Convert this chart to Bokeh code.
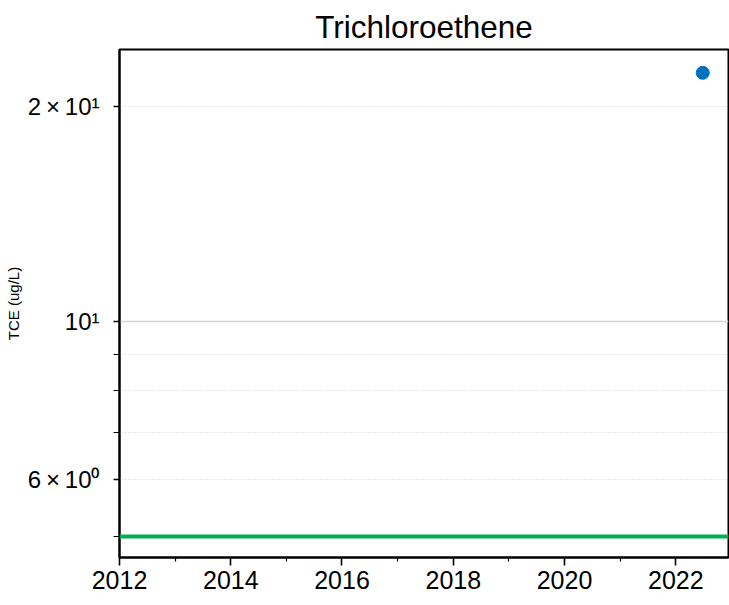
import pandas as pd
from bokeh.plotting import figure
from bokeh.models import (Range1d, FixedTicker, DatetimeTickFormatter, Span, Grid,
                          ColumnDataSource)
from bokeh.embed import file_html
from bokeh.resources import INLINE

# ---- data ----
title_text = "Trichloroethene"
y_label = "TCE (ug/L)"
sample_dates = ["2022-06-27"]
tce_values = [22.3]
mcl_value = 5.0
x_start, x_end = "2012-01-01", "2022-12-13"
y_start, y_end = 4.673, 24.04
major_years = [2012, 2014, 2016, 2018, 2020, 2022]
minor_years = [2013, 2015, 2017, 2019, 2021, 2023]
y_major_ticks = [6, 10, 20]
y_minor_ticks = [5, 7, 8, 9]
y_tick_labels = {6: "6\u2009×\u200910⁰", 10: "10¹", 20: "2\u2009×\u200910¹"}
solid_grid_vals = [10]
dotted_grid_vals = [6, 7, 8, 9, 20]

FONT = "Liberation Sans"


def ms(d):
    return pd.Timestamp(d).value / 1e6


p = figure(width=729, height=605, x_axis_type="datetime", y_axis_type="log",
           output_backend="svg", toolbar_location=None,
           x_range=Range1d(ms(x_start), ms(x_end)),
           y_range=Range1d(y_start, y_end),
           min_border_left=119, min_border_right=1, min_border_top=49,
           min_border_bottom=48)

p.title.text = title_text
p.title.text_font = FONT
p.title.text_font_size = "31.5px"
p.title.text_font_style = "normal"
p.title.text_color = "black"
p.title.align = "center"
p.title.standoff = 9
p.title.text_line_height = 1.0

p.outline_line_color = "black"
p.outline_line_width = 2
p.outline_line_alpha = 1
p.background_fill_color = "white"
p.border_fill_color = "white"

p.xgrid.visible = False
p.ygrid.visible = False

p.add_layout(Grid(dimension=1, ticker=FixedTicker(ticks=dotted_grid_vals),
                  grid_line_color="#c8c8c8", grid_line_width=0.8,
                  grid_line_dash="1 2"))
p.add_layout(Grid(dimension=1, ticker=FixedTicker(ticks=solid_grid_vals),
                  grid_line_color="#d6d6d6", grid_line_width=1.5))

# x axis
p.xaxis.ticker = FixedTicker(ticks=[ms(f"{y}-01-01") for y in major_years],
                             minor_ticks=[ms(f"{y}-01-01") for y in minor_years])
p.xaxis.formatter = DatetimeTickFormatter(
    years="%Y", months="%Y", days="%Y", hours="%Y", hourmin="%Y", minutes="%Y",
    minsec="%Y", seconds="%Y", milliseconds="%Y", microseconds="%Y")
p.xaxis.major_label_text_font = FONT
p.xaxis.major_label_text_font_size = "25px"
p.xaxis.major_label_standoff = 5

# y axis
p.yaxis.ticker = FixedTicker(ticks=y_major_ticks, minor_ticks=y_minor_ticks)
p.yaxis.major_label_overrides = y_tick_labels
p.yaxis.major_label_text_font = FONT
p.yaxis.major_label_text_font_size = "24px"
p.yaxis.major_label_standoff = 14
p.yaxis.axis_label = y_label
p.yaxis.axis_label_text_font = FONT
p.yaxis.axis_label_text_font_size = "15px"
p.yaxis.axis_label_text_font_style = "normal"
p.yaxis.axis_label_text_color = "black"
p.yaxis.axis_label_standoff = 3

for ax in (p.xaxis, p.yaxis):
    ax.axis_line_color = "black"
    ax.axis_line_width = 2
    ax.major_tick_line_color = "black"
    ax.minor_tick_line_color = "black"
    ax.major_tick_line_width = 1.6
    ax.minor_tick_line_width = 1.2
    ax.major_tick_in = 0
    ax.minor_tick_in = 0
    ax.major_label_text_color = "black"

p.xaxis.major_tick_out = 8
p.xaxis.minor_tick_out = 4
p.yaxis.major_tick_out = 6
p.yaxis.minor_tick_out = 6

# MCL line
p.add_layout(Span(location=mcl_value, dimension="width", line_color="#00B050",
                  line_width=4))

src = ColumnDataSource(dict(x=[ms(d) for d in sample_dates], y=tce_values))
p.scatter("x", "y", source=src, size=13, fill_color="#0070C0",
          line_color="#0070C0")

open("out.html", "w").write(file_html(p, INLINE))
